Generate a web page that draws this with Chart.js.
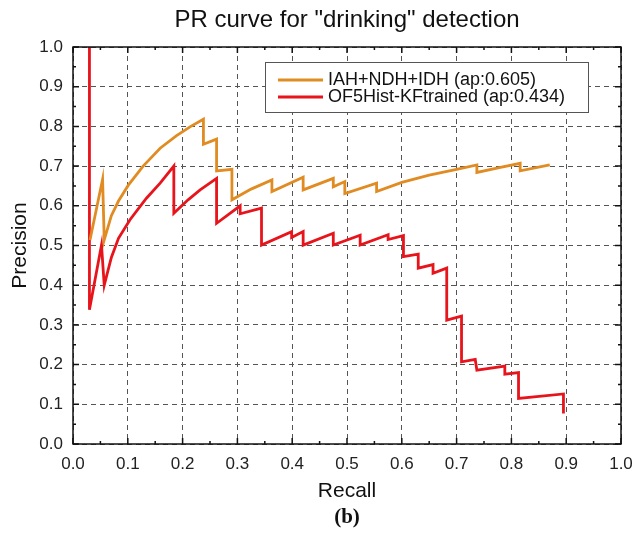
<!DOCTYPE html>
<html>
<head>
<meta charset="utf-8">
<script src="https://cdn.jsdelivr.net/npm/chart.js@4.4.1/dist/chart.umd.min.js"></script>
<style>
  html, body { margin: 0; padding: 0; background: #fff; }
  #wrap { width: 636px; height: 538px; }
</style>
</head>
<body>
<div id="wrap"><canvas id="chart-pr"></canvas></div>
<script>
// values
const labelA = "IAH+NDH+IDH (ap:0.605)";
const recallA = [0.031, 0.054, 0.057, 0.070, 0.083, 0.101, 0.128, 0.159, 0.189, 0.215, 0.238, 0.238,
  0.262, 0.262, 0.290, 0.290, 0.325, 0.363, 0.363, 0.420, 0.420, 0.475, 0.475, 0.496, 0.496,
  0.554, 0.554, 0.600, 0.650, 0.700, 0.737, 0.737, 0.780, 0.816, 0.816, 0.870];
const precisionA = [0.514, 0.667, 0.514, 0.575, 0.612, 0.652, 0.700, 0.745, 0.777, 0.800, 0.818, 0.755,
  0.768, 0.688, 0.692, 0.615, 0.642, 0.665, 0.636, 0.672, 0.640, 0.669, 0.648, 0.661, 0.631,
  0.657, 0.636, 0.659, 0.677, 0.692, 0.703, 0.684, 0.697, 0.707, 0.688, 0.703];

const labelB = "OF5Hist-KFtrained (ap:0.434)";
const recallB = [0.030, 0.030, 0.052, 0.057, 0.070, 0.083, 0.104, 0.134, 0.159, 0.184, 0.184, 0.210,
  0.232, 0.262, 0.262, 0.305, 0.305, 0.344, 0.344, 0.399, 0.399, 0.420, 0.420, 0.475, 0.475,
  0.524, 0.524, 0.575, 0.575, 0.603, 0.603, 0.630, 0.630, 0.657, 0.657, 0.682, 0.682, 0.709,
  0.709, 0.734, 0.737, 0.788, 0.788, 0.813, 0.813, 0.895, 0.895];
const precisionB = [1.000, 0.338, 0.501, 0.400, 0.470, 0.518, 0.565, 0.619, 0.657, 0.700, 0.581, 0.615,
  0.640, 0.669, 0.556, 0.600, 0.580, 0.594, 0.501, 0.535, 0.520, 0.535, 0.501, 0.531, 0.501,
  0.526, 0.501, 0.527, 0.515, 0.525, 0.472, 0.478, 0.443, 0.452, 0.430, 0.443, 0.312, 0.322,
  0.207, 0.213, 0.186, 0.196, 0.176, 0.180, 0.115, 0.126, 0.077];

const titleText = 'PR curve for "drinking" detection';
const subCaption = "(b)";

function toPoints(xs, ys) {
  return xs.map((x, i) => ({ x: x, y: ys[i] }));
}

// frame, inward ticks, legend box, title and caption
const framePlugin = {
  id: "frame",
  afterDatasetsDraw(chart) {
    const c = chart.ctx;
    const a = chart.chartArea;
    const sx = chart.scales.x;
    const sy = chart.scales.y;
    c.save();
    c.strokeStyle = "#111";
    c.lineWidth = 1.5;
    for (let i = 0; i <= 20; i++) {
      const v = i * 0.05;
      const len = i % 2 === 0 ? 6 : 3;
      const px = sx.getPixelForValue(v);
      const py = sy.getPixelForValue(v);
      c.beginPath();
      c.moveTo(px, a.bottom); c.lineTo(px, a.bottom - len);
      c.moveTo(px, a.top); c.lineTo(px, a.top + len);
      c.moveTo(a.left, py); c.lineTo(a.left + len, py);
      c.moveTo(a.right, py); c.lineTo(a.right - len, py);
      c.stroke();
    }
    c.strokeRect(a.left, a.top, a.right - a.left, a.bottom - a.top);

    // legend
    const lx = a.left + 192, ly = a.top + 15, lw = 323, lh = 50;
    c.fillStyle = "#fff";
    c.fillRect(lx, ly, lw, lh);
    c.lineWidth = 1;
    c.strokeStyle = "#555";
    c.strokeRect(lx + 0.5, ly + 0.5, lw, lh);
    c.font = "18px 'Liberation Sans', Arial, sans-serif";
    c.textBaseline = "middle";
    chart.data.datasets.forEach((ds, i) => {
      const yy = ly + 18 + i * 17;
      c.strokeStyle = ds.borderColor;
      c.lineWidth = 2.8;
      c.beginPath();
      c.moveTo(lx + 13, yy); c.lineTo(lx + 58, yy);
      c.stroke();
      c.fillStyle = "#111";
      c.fillText(ds.label, lx + 63, yy);
    });

    // title and caption
    const cx = (a.left + a.right) / 2;
    c.textAlign = "center";
    c.fillStyle = "#111";
    c.font = "24px 'Liberation Sans', Arial, sans-serif";
    c.fillText(titleText, cx, 20);
    c.font = "bold 21px 'Liberation Serif', 'Times New Roman', serif";
    c.fillText(subCaption, cx, 518);
    c.restore();
  }
};

document.addEventListener("DOMContentLoaded", function () {
  const ctx = document.getElementById("chart-pr");
  const tickFont = { family: "'Liberation Sans', Arial, sans-serif", size: 17 };
  const axisTitleFont = { family: "'Liberation Sans', Arial, sans-serif", size: 21 };

  new Chart(ctx, {
    type: "scatter",
    data: {
      datasets: [
        {
          label: labelA,
          data: toPoints(recallA, precisionA),
          borderColor: "#e08c22",
          borderWidth: 2.8,
          showLine: true,
          pointRadius: 0,
          tension: 0,
        },
        {
          label: labelB,
          data: toPoints(recallB, precisionB),
          borderColor: "#e8141c",
          borderWidth: 2.8,
          showLine: true,
          pointRadius: 0,
          tension: 0,
        },
      ],
    },
    options: {
      responsive: true,
      maintainAspectRatio: false,
      animation: false,
      layout: { padding: { top: 47, right: 15, left: 0, bottom: 34 } },
      plugins: {
        legend: { display: false },
        tooltip: { enabled: false },
      },
      scales: {
        x: {
          type: "linear",
          min: 0,
          max: 1,
          afterFit: (scale) => {
            scale.height = 60;
            scale.paddingLeft = 0;
            scale.paddingRight = 0;
          },
          ticks: {
            stepSize: 0.1,
            font: tickFont,
            color: "#222",
            padding: 10,
            maxRotation: 0,
            callback: (v) => v.toFixed(1),
          },
          grid: { color: "#555", lineWidth: 1, drawTicks: false },
          border: { display: false, dash: [5, 4] },
          title: { display: true, text: "Recall", font: axisTitleFont, color: "#111", padding: { top: 0, bottom: 0 } },
        },
        y: {
          type: "linear",
          min: 0,
          max: 1,
          afterFit: (scale) => { scale.width = 73; },
          ticks: {
            stepSize: 0.1,
            font: tickFont,
            color: "#222",
            padding: 10,
            callback: (v) => v.toFixed(1),
          },
          grid: { color: "#555", lineWidth: 1, drawTicks: false },
          border: { display: false, dash: [5, 4] },
          title: { display: true, text: "Precision", font: axisTitleFont, color: "#111", padding: { top: 8, bottom: 0 } },
        },
      },
    },
    plugins: [framePlugin],
  });
});
</script>
</body>
</html>
